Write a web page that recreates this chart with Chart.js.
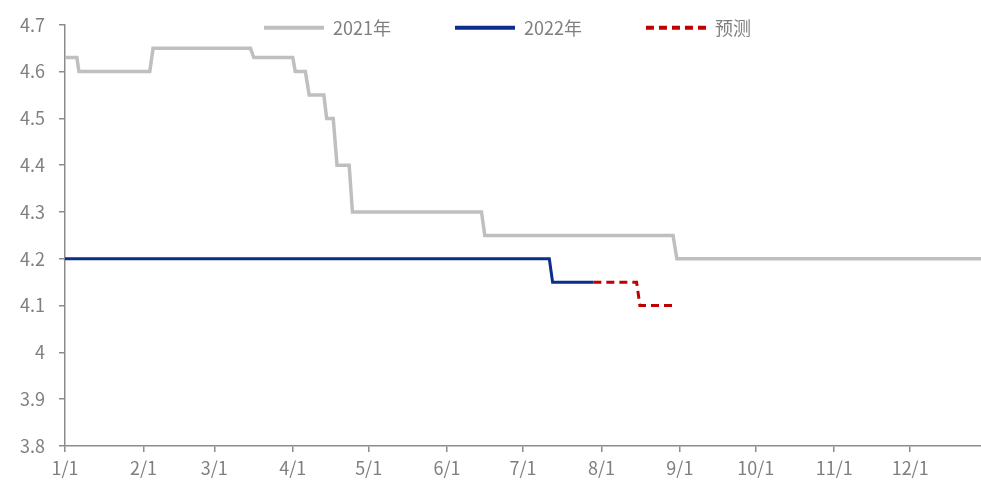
<!DOCTYPE html>
<html lang="zh">
<head>
	<meta charset="utf-8" />
	<title>chart</title>
	<style>
		body { margin: 0; background: #fff; }
		#wrap { width: 981px; height: 484px; }
	</style>
</head>
<body>
	<div id="wrap"><canvas id="c1"></canvas></div>
	<script src="https://cdn.jsdelivr.net/npm/chart.js@4/dist/chart.umd.min.js"></script>
	<script>
		// day of year (1/1 = 0) and value
		var days2021 = [0, 4.7, 5.5, 33.5, 34.8, 73.3, 74.6, 90, 91, 95, 96.5, 102.3, 103.4, 106, 107.5, 112.3, 113.6, 164.6, 165.9, 240.3, 241.8, 362];
		var values2021 = [4.63, 4.63, 4.60, 4.60, 4.65, 4.65, 4.63, 4.63, 4.60, 4.60, 4.55, 4.55, 4.50, 4.50, 4.40, 4.40, 4.30, 4.30, 4.25, 4.25, 4.20, 4.20];
		var days2022 = [0, 191.4, 192.7, 208.8];
		var values2022 = [4.20, 4.20, 4.15, 4.15];
		var daysForecast = [208.8, 225.9, 227.2, 241.1];
		var valuesForecast = [4.15, 4.15, 4.10, 4.10];
		var monthStartDays = [0, 31, 59, 90, 120, 151, 181, 212, 243, 273, 304, 334];
		var monthLabels = ['1/1', '2/1', '3/1', '4/1', '5/1', '6/1', '7/1', '8/1', '9/1', '10/1', '11/1', '12/1'];
		var seriesNames = ['2021年', '2022年', '预测'];
	</script>
	<script>
		function points(xs, ys)
		{
			return xs.map(function(x, i) {
				return {x: x, y: ys[i]};
			});
		}

		var axisColor = '#8c8c8c';
		var textColor = '#7f7f7f';
		var fontFamily = "'Noto Sans CJK SC', 'DejaVu Sans', sans-serif";

		// legend sits over the top of the plot: widen its box after layout
		// so it is not clipped, without moving the chart area
		var legendOverlay = {
			id: 'legendOverlay',
			afterLayout: function(chart) {
				var lg = chart.legend;
				lg.left = 34;
				lg.right = 981;
				lg.bottom = 42;
				lg.width = lg.right - lg.left;
				lg.height = lg.bottom - lg.top;
			}
		};

		var config = {
			type: 'line',
			plugins: [legendOverlay],
			data: {
				datasets: [
					{label: seriesNames[0], data: points(days2021, values2021), borderColor: '#bfbfbf', backgroundColor: '#bfbfbf', borderWidth: 3.5},
					{label: seriesNames[1], data: points(days2022, values2022), borderColor: '#0b2d8c', backgroundColor: '#0b2d8c', borderWidth: 3},
					{label: seriesNames[2], data: points(daysForecast, valuesForecast), borderColor: '#c00000', backgroundColor: '#c00000', borderWidth: 3, borderDash: [8, 5]}
				]
			},
			options: {
				responsive: true,
				maintainAspectRatio: false,
				animation: false,
				elements: {
					point: {radius: 0, hoverRadius: 0},
					line: {tension: 0, borderJoinStyle: 'miter'}
				},
				layout: {padding: {top: -50, right: 0, left: 0, bottom: 0}},
				plugins: {
					tooltip: {enabled: false},
					legend: {
						position: 'top',
						maxHeight: 70,
						labels: {
							usePointStyle: true,
							pointStyle: 'line',
							pointStyleWidth: 60,
							padding: 64,
							color: textColor,
							font: {family: fontFamily, size: 18},
							generateLabels: function(chart) {
								var items = Chart.defaults.plugins.legend.labels.generateLabels(chart);
								items.forEach(function(item) {
									var ds = chart.data.datasets[item.datasetIndex];
									item.strokeStyle = ds.borderColor;
									item.lineWidth = 4;
									item.lineDash = ds.borderDash || [];
								});
								return items;
							}
						}
					}
				},
				scales: {
					x: {
						type: 'linear',
						min: 0,
						max: 362,
						afterBuildTicks: function(scale) {
							scale.ticks = monthStartDays.map(function(d) { return {value: d}; });
						},
						afterFit: function(scale) { scale.height = 38; },
						border: {display: true, color: axisColor, width: 1.5},
						grid: {display: true, drawOnChartArea: false, drawTicks: true, tickLength: 6, color: axisColor, lineWidth: 1.5},
						ticks: {
							autoSkip: false,
							maxRotation: 0,
							padding: 5,
							color: textColor,
							font: {family: fontFamily, size: 18},
							callback: function(value) {
								return monthLabels[monthStartDays.indexOf(value)];
							}
						}
					},
					y: {
						min: 3.8,
						max: 4.7,
						afterFit: function(scale) { scale.width = 65; },
						border: {display: true, color: axisColor, width: 1.5},
						grid: {display: true, drawOnChartArea: false, drawTicks: true, tickLength: 6, color: axisColor, lineWidth: 1.5},
						ticks: {
							stepSize: 0.1,
							padding: 14,
							color: textColor,
							font: {family: fontFamily, size: 18},
							callback: function(value) {
								return parseFloat(value.toFixed(1)).toString();
							}
						}
					}
				}
			}
		};

		var chart = new Chart(document.getElementById('c1'), config);
	</script>
</body>
</html>
